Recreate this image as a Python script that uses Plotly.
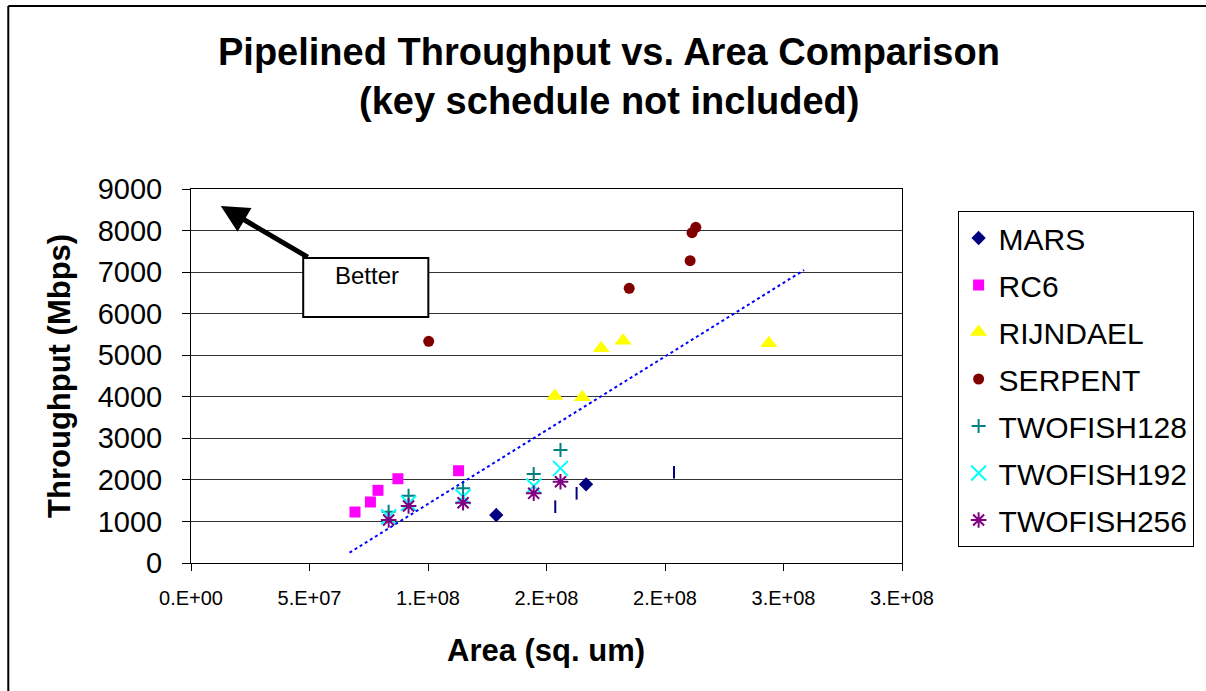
import plotly.graph_objects as go

# ---------------- data ----------------
mars_x = [1.288e8, 1.667e8]
mars_y = [1155, 1893]
mars_bar_x = [1.537e8, 1.627e8, 2.038e8]
mars_bar_y = [1355, 1677, 2183]
rc6_x = [6.92e7, 7.57e7, 7.89e7, 8.73e7, 1.129e8]
rc6_y = [1227, 1468, 1749, 2028, 2221]
rijndael_x = [1.535e8, 1.651e8, 1.731e8, 1.823e8, 2.438e8]
rijndael_y = [4018, 3987, 5166, 5349, 5286]
serpent_x = [1.003e8, 1.849e8, 2.106e8, 2.114e8, 2.130e8]
serpent_y = [5334, 6610, 7274, 7948, 8077]
twofish_x = [8.34e7, 9.18e7, 1.148e8, 1.446e8, 1.559e8]
twofish128_y = [1235, 1620, 1797, 2141, 2719]
twofish192_y = [1115, 1436, 1596, 1853, 2278]
twofish256_y = [1035, 1372, 1451, 1677, 1956]
trend_x = [6.69e7, 2.587e8]
trend_y = [248, 7050]

x_tickvals = [0, 5e7, 1e8, 1.5e8, 2e8, 2.5e8, 3e8]
x_ticktext = ["0.E+00", "5.E+07", "1.E+08", "2.E+08", "2.E+08", "3.E+08", "3.E+08"]
y_tickvals = [0, 1000, 2000, 3000, 4000, 5000, 6000, 7000, 8000, 9000]

FONT = "Arial, 'Liberation Sans', sans-serif"

fig = go.Figure()

def add(name, x, y, symbol, color, size, lw=0, show=True, group=None):
    fig.add_trace(go.Scatter(
        x=x, y=y, mode="markers", name=name, showlegend=show,
        legendgroup=group or name,
        marker=dict(symbol=symbol, color=color, size=size,
                    line=dict(color=color, width=lw)),
    ))

add("MARS", mars_x, mars_y, "diamond", "#000080", 11)
add("RC6", rc6_x, rc6_y, "square", "#FF00FF", 11)
add("RIJNDAEL", rijndael_x, rijndael_y, "triangle-up", "#FFFF00", 15)
add("SERPENT", serpent_x, serpent_y, "circle", "#800000", 11)
add("TWOFISH128", twofish_x, twofish128_y, "cross-thin-open", "#008080", 10, 2)
add("TWOFISH192", twofish_x, twofish192_y, "x-thin-open", "#00FFFF", 15, 2)
add("TWOFISH256", twofish_x, twofish256_y, "asterisk-open", "#800080", 13, 2)
add("MARS_bars", mars_bar_x, mars_bar_y, "line-ns-open", "#000080", 9, 2,
    show=False, group="MARS")

fig.add_trace(go.Scatter(
    x=trend_x, y=trend_y, mode="lines", showlegend=False, hoverinfo="skip",
    line=dict(color="#0000FF", width=2, dash="dot"),
))

# plot area in pixels: x 191..907, y 189..563
L, R, T, B = 191, 907, 189, 563
W, H = 1206, 691
def px(xp):
    return (xp - L) / (R - L)
def py(yp):
    return (B - yp) / (B - T)

annotations = [
    dict(text="<b>Pipelined Throughput vs. Area Comparison</b>", x=px(612), y=py(52),
         xref="paper", yref="paper", showarrow=False, xanchor="center", yanchor="middle",
         font=dict(size=38, color="black", family=FONT)),
    dict(text="<b>(key schedule not included)</b>", x=px(612), y=py(101),
         xref="paper", yref="paper", showarrow=False, xanchor="center", yanchor="middle",
         font=dict(size=38, color="black", family=FONT)),
    dict(text="<b>Area (sq. um)</b>", x=px(548), y=py(650),
         xref="paper", yref="paper", showarrow=False, xanchor="center", yanchor="middle",
         font=dict(size=31, color="black", family=FONT)),
    dict(text="<b>Throughput (Mbps)</b>", x=px(58), y=py(376), textangle=-90,
         xref="paper", yref="paper", showarrow=False, xanchor="center", yanchor="middle",
         font=dict(size=31, color="black", family=FONT)),
    # arrow
    dict(text="", x=1.257e7, y=8590, ax=4.99e7, ay=7339, xref="x", yref="y",
         axref="x", ayref="y", showarrow=True, arrowhead=2, arrowsize=1.1,
         arrowwidth=5, arrowcolor="black"),
    dict(text="Better", x=px(368), y=py(275), xref="paper", yref="paper",
         showarrow=False, xanchor="center", yanchor="middle",
         font=dict(size=24, color="black", family=FONT)),
]

shapes = [
    dict(type="rect", xref="paper", yref="paper", x0=px(304), x1=px(430),
         y0=py(317), y1=py(258), line=dict(color="black", width=2),
         fillcolor="white", layer="above"),
    # outer chart border (left and top visible)
    dict(type="line", xref="paper", yref="paper", x0=px(7), x1=px(7),
         y0=py(6), y1=py(700), line=dict(color="black", width=2)),
    dict(type="line", xref="paper", yref="paper", x0=px(7), x1=px(1215),
         y0=py(6), y1=py(6), line=dict(color="black", width=2)),
]

fig.update_layout(
    width=W, height=H,
    margin=dict(l=L, r=W - R, t=T, b=H - B, pad=0),
    paper_bgcolor="white", plot_bgcolor="white",
    font=dict(family=FONT, color="black"),
    annotations=annotations, shapes=shapes,
    showlegend=True,
    legend=dict(
        x=px(963), y=py(211), xanchor="left", yanchor="top",
        font=dict(size=30, color="black", family=FONT),
        bordercolor="black", borderwidth=1, bgcolor="white",
        traceorder="grouped", tracegroupgap=5, itemwidth=30,
    ),
    hovermode=False,
)
fig.update_xaxes(
    range=[0, 3e8], tickvals=x_tickvals, ticktext=x_ticktext,
    showgrid=False, zeroline=False, showline=True, linecolor="black",
    linewidth=1, mirror=True, ticks="outside", ticklen=7, tickcolor="black",
    tickfont=dict(size=20, color="black", family=FONT), ticklabelstandoff=10,
)
fig.update_yaxes(
    range=[0, 9000], tickvals=y_tickvals,
    showgrid=True, gridcolor="#333333", gridwidth=1, zeroline=False,
    showline=True, linecolor="black", linewidth=1, mirror=True,
    ticks="outside", ticklen=8, tickcolor="black",
    tickfont=dict(size=29, color="black", family=FONT), ticklabelstandoff=14,
)

fig.write_html("out.html")
